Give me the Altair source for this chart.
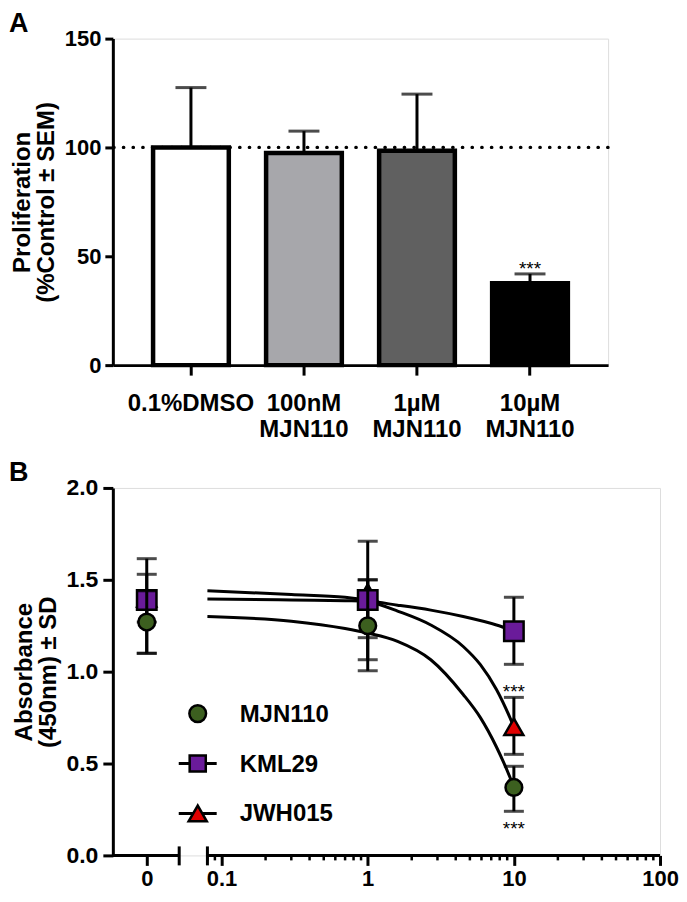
import altair as alt
import numpy as np
import pandas as pd

FONT = "Liberation Sans"

# ---------------- Panel A data ----------------
a_labels = ["0.1%DMSO", "100nM|MJN110", "1µM|MJN110", "10µM|MJN110"]
a_values = [100.0, 97.5, 98.5, 37.6]
a_sem = [27.5, 10.0, 26.0, 4.3]
a_colors = ["#ffffff", "#a7a7ab", "#606060", "#000000"]
a_stars = ["", "", "", "***"]
a_yticks = [0, 50, 100, 150]
a_reference = 100

# ---------------- Panel B data ----------------
b_conc = [0, 1, 10]
b_series = ["MJN110", "KML29", "JWH015"]
b_colors = {"MJN110": "#3c5f1f", "KML29": "#6a1b9a", "JWH015": "#e00000"}
b_shapes = {"MJN110": "circle", "KML29": "square", "JWH015": "triangle-up"}
b_sizes = {"MJN110": 280, "KML29": 380, "JWH015": 360}

mjn_mean = [1.27, 1.25, 0.37]
mjn_lo = [1.10, 1.005, 0.24]
mjn_hi = [1.44, 1.50, 0.485]
mjn_star_below = ["", "", "***"]

kml_mean = [1.39, 1.39, 1.22]
kml_lo = [1.10, 1.065, 1.04]
kml_hi = [1.615, 1.71, 1.405]

jwh_mean = [1.40, 1.43, 0.70]
jwh_lo = [1.27, 1.185, 0.55]
jwh_hi = [1.53, 1.50, 0.86]
jwh_star_above = ["", "", "***"]

# fitted curves
curve_mjn_conc = [0.08, 0.3, 0.7, 1.0, 1.6, 2.7, 4.5, 5.9, 7.6, 9.4, 10]
curve_mjn_val = [1.30, 1.275, 1.235, 1.21, 1.165, 1.065, 0.876, 0.75, 0.59, 0.425, 0.37]
curve_kml_conc = [0.08, 0.3, 0.7, 1.0, 1.6, 2.7, 4.5, 7.6, 10]
curve_kml_val = [1.395, 1.39, 1.386, 1.383, 1.362, 1.335, 1.30, 1.254, 1.222]
curve_jwh_conc = [0.08, 0.3, 0.7, 1.0, 1.6, 2.7, 4.5, 5.9, 7.6, 9.4, 10]
curve_jwh_val = [1.44, 1.42, 1.405, 1.385, 1.33, 1.254, 1.137, 1.038, 0.903, 0.75, 0.70]

b_yticks = [0, 0.5, 1.0, 1.5, 2.0]
b_xtick_conc = [0, 0.1, 1, 10, 100]
b_xtick_labels = ["0", "0.1", "1", "10", "100"]
b_minor_conc = [0.08, 0.09, 0.2, 0.3, 0.4, 0.5, 0.6, 0.7, 0.8, 0.9,
                2, 3, 4, 5, 6, 7, 8, 9, 20, 30, 40, 50, 60, 70, 80, 90]
b_log_start = 0.08

# ---------------- layout constants (axis units of panel B) ----------------
X_LEFT = -1.744      # left edge of the plot, in log10 units
ZERO_POS = -1.512    # where concentration 0 is drawn
BREAK_END = -1.290   # end of the "0" segment of the broken axis

A_W, A_H = 496, 327
B_W, B_H = 548, 368
LETTER_X, LETTER_Y = -104, -28

axis_common = dict(
    labelFont=FONT, labelFontWeight="bold", labelColor="black",
    titleFont=FONT, titleFontWeight="bold", titleColor="black",
    domainColor="black", tickColor="black", grid=False,
)

# ---------------- Panel A ----------------
dfA = pd.DataFrame({"cat": a_labels, "val": a_values, "sem": a_sem, "star": a_stars})
dfA["top"] = dfA["val"] + dfA["sem"]

xA = alt.X("cat:N", sort=a_labels,
           scale=alt.Scale(paddingInner=0.33, paddingOuter=0.356),
           axis=alt.Axis(title=None, labelAngle=0, labelExpr="split(datum.label, '|')",
                         labelFontSize=24, labelLineHeight=26, labelPadding=16,
                         tickSize=10, tickWidth=3, domainWidth=3, **axis_common))
yA = alt.Y("val:Q", scale=alt.Scale(domain=[0, 150], nice=False),
           axis=alt.Axis(values=a_yticks, title=["Proliferation", "(%Control ± SEM)"],
                         titleFontSize=24, titleLineHeight=24, titlePadding=6,
                         labelFontSize=22, labelPadding=4, tickSize=8, tickWidth=3,
                         domainWidth=3, **axis_common))

baseA = alt.Chart(dfA)
bars = baseA.mark_bar(stroke="black", strokeWidth=4.5).encode(
    x=xA, y=yA,
    fill=alt.Fill("cat:N", scale=alt.Scale(domain=a_labels, range=a_colors), legend=None),
)
errA = baseA.mark_rule(color="black", strokeWidth=3).encode(
    x=alt.X("cat:N", sort=a_labels), y="val:Q", y2="top:Q")
capA = baseA.mark_tick(orient="horizontal", color="black", size=31, thickness=3).encode(
    x=alt.X("cat:N", sort=a_labels), y="top:Q")
refA = alt.Chart(pd.DataFrame({"ref": [a_reference]})).mark_rule(
    color="black", strokeWidth=3.2, strokeDash=[0.5, 9.2], strokeCap="round"
).encode(y="ref:Q")
starA = baseA.mark_text(font=FONT, fontSize=19, color="black", baseline="alphabetic", dy=1).encode(
    x=alt.X("cat:N", sort=a_labels), y="top:Q", text="star:N")
letterA = alt.Chart(pd.DataFrame({"t": ["A"]})).mark_text(
    font=FONT, fontSize=27, fontWeight="bold", align="left", baseline="top", color="black"
).encode(x=alt.value(LETTER_X), y=alt.value(LETTER_Y), text="t:N")

panelA = alt.layer(bars, errA, capA, refA, starA, letterA).properties(width=A_W, height=A_H)

# ---------------- Panel B ----------------
rows = []
for name, mean, lo, hi in [("MJN110", mjn_mean, mjn_lo, mjn_hi),
                           ("KML29", kml_mean, kml_lo, kml_hi),
                           ("JWH015", jwh_mean, jwh_lo, jwh_hi)]:
    for i, c in enumerate(b_conc):
        rows.append({"series": name, "conc": c, "mean": mean[i], "lo": lo[i], "hi": hi[i],
                     "above": jwh_star_above[i] if name == "JWH015" else "",
                     "below": mjn_star_below[i] if name == "MJN110" else ""})
dfB = pd.DataFrame(rows)

curve_rows = []
for name, cc, vv in [("MJN110", curve_mjn_conc, curve_mjn_val),
                     ("KML29", curve_kml_conc, curve_kml_val),
                     ("JWH015", curve_jwh_conc, curve_jwh_val)]:
    for c, v in zip(cc, vv):
        curve_rows.append({"series": name, "conc": c, "mean": v})
dfCurve = pd.DataFrame(curve_rows)

pos_expr = f"datum.conc == 0 ? {ZERO_POS} : log(datum.conc) / LN10"
tick_pos = [ZERO_POS if c == 0 else float(np.log10(c)) for c in b_xtick_conc]
label_expr = " : ".join(
    f"abs(datum.value - ({p})) < 0.01 ? '{l}'" for p, l in zip(tick_pos, b_xtick_labels)
) + " : ''"

xB = alt.X("pos:Q", scale=alt.Scale(domain=[X_LEFT, 2], nice=False, zero=False),
           axis=alt.Axis(values=tick_pos, labelExpr=label_expr, domain=False, title=None,
                         tickSize=10, tickWidth=3, labelFontSize=22, labelPadding=3,
                         labelFlush=False, labelBound=False, **axis_common))
yB = alt.Y("mean:Q", scale=alt.Scale(domain=[0, 2], nice=False),
           axis=alt.Axis(values=b_yticks, format=".1f", title=["Absorbance", "(450nm) ± SD"],
                         titleFontSize=24, titleLineHeight=24, titlePadding=5,
                         labelFontSize=23, labelPadding=5, tickSize=10, tickWidth=3,
                         domainWidth=3, **axis_common))

curves = alt.Chart(dfCurve).transform_calculate(pos=pos_expr).mark_line(
    color="black", strokeWidth=3, interpolate="monotone"
).encode(x=xB, y=yB, detail="series:N")

segs = pd.DataFrame({"pos": [X_LEFT, float(np.log10(b_log_start))], "pos2": [BREAK_END, 2.0]})
axisLine = alt.Chart(segs).mark_rule(color="black", strokeWidth=3).encode(
    x=xB, x2="pos2:Q", y=alt.value(B_H))
minor = alt.Chart(pd.DataFrame({"conc": b_minor_conc})).transform_calculate(pos=pos_expr).mark_rule(
    color="black", strokeWidth=2.5).encode(x=xB, y=alt.value(B_H), y2=alt.value(B_H + 5))
breaks = alt.Chart(pd.DataFrame({"pos": [BREAK_END, float(np.log10(b_log_start))]})).mark_rule(
    color="black", strokeWidth=3).encode(x=xB, y=alt.value(B_H - 9), y2=alt.value(B_H + 10))

series_layers = []
for name in ["JWH015", "KML29", "MJN110"]:
    base = alt.Chart(dfB).transform_filter(alt.datum.series == name).transform_calculate(pos=pos_expr)
    series_layers.append(base.mark_rule(color="black", strokeWidth=3).encode(
        x=xB, y=alt.Y("lo:Q"), y2="hi:Q"))
    series_layers.append(base.mark_tick(orient="horizontal", color="black", size=20, thickness=3).encode(
        x=xB, y=alt.Y("lo:Q")))
    series_layers.append(base.mark_tick(orient="horizontal", color="black", size=20, thickness=3).encode(
        x=xB, y=alt.Y("hi:Q")))
    series_layers.append(base.mark_point(
        shape=b_shapes[name], filled=True, fill=b_colors[name], stroke="black",
        strokeWidth=2.5, size=b_sizes[name], opacity=1).encode(x=xB, y=yB))

baseStars = alt.Chart(dfB).transform_calculate(pos=pos_expr)
starAbove = baseStars.mark_text(font=FONT, fontSize=19, color="black", baseline="alphabetic", dy=1).encode(
    x=xB, y=alt.Y("hi:Q"), text="above:N")
starBelow = baseStars.mark_text(font=FONT, fontSize=19, color="black", baseline="alphabetic", dy=24).encode(
    x=xB, y=alt.Y("lo:Q"), text="below:N")

# legend (drawn by hand, GraphPad style)
LEG_X, LEG_Y0, LEG_DY, LEG_TX = 85, 226, 50, 127
legend_has_line = {"MJN110": False, "KML29": True, "JWH015": True}
legend_sizes = {"MJN110": 280, "KML29": 260, "JWH015": 330}
one = pd.DataFrame({"k": [0]})
legend_layers = []
for i, name in enumerate(b_series):
    ly = LEG_Y0 + i * LEG_DY
    if legend_has_line[name]:
        legend_layers.append(alt.Chart(one).mark_rule(color="black", strokeWidth=3).encode(
            x=alt.value(LEG_X - 19), x2=alt.value(LEG_X + 19), y=alt.value(ly)))
    legend_layers.append(alt.Chart(one).mark_point(
        shape=b_shapes[name], filled=True, fill=b_colors[name], stroke="black",
        strokeWidth=2.5, size=legend_sizes[name], opacity=1).encode(
        x=alt.value(LEG_X), y=alt.value(ly)))
    legend_layers.append(alt.Chart(pd.DataFrame({"t": [name]})).mark_text(
        font=FONT, fontSize=24, fontWeight="bold", align="left", baseline="middle", color="black"
    ).encode(x=alt.value(LEG_TX), y=alt.value(ly + 1), text="t:N"))

letterB = alt.Chart(pd.DataFrame({"t": ["B"]})).mark_text(
    font=FONT, fontSize=27, fontWeight="bold", align="left", baseline="top", color="black"
).encode(x=alt.value(LETTER_X), y=alt.value(LETTER_Y), text="t:N")

panelB = alt.layer(curves, axisLine, minor, breaks, *series_layers, starAbove, starBelow,
                   *legend_layers, letterB).properties(width=B_W, height=B_H)

chart = alt.vconcat(panelA, panelB, spacing=123, bounds="flush").properties(
    padding={"left": 0, "top": 0, "right": 0, "bottom": 0}
).configure_view(stroke=None).configure(background="white")

chart.save("out.html", embed_options={"renderer": "svg", "actions": False})
